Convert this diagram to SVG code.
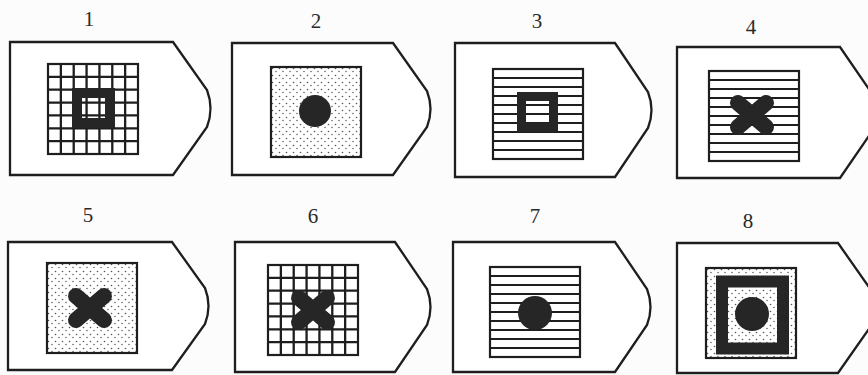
<svg xmlns="http://www.w3.org/2000/svg" xmlns:xlink="http://www.w3.org/1999/xlink" width="868" height="375" viewBox="0 0 868 375">
<style>
.card{fill:#fff;stroke:#1e1e1e;stroke-width:2.3;stroke-linejoin:miter}
.lbl{font-family:"Liberation Serif","DejaVu Serif",serif;font-size:21px;fill:#2a2a2a;text-anchor:middle}
.frame{fill:none;stroke:#1e1e1e;stroke-width:2.2}
.ink{fill:#262626}
.xm{stroke:#262626;stroke-width:16;stroke-linecap:round;fill:none}
.ring{fill:none;stroke:#262626}
</style>
<defs>
<pattern id="dotp" patternUnits="userSpaceOnUse" width="7" height="7">
<rect width="7" height="7" fill="#fff"/>
<circle cx="1.5" cy="1.5" r="0.8" fill="#555"/>
<circle cx="5" cy="4.5" r="0.8" fill="#666"/>
</pattern>
<g id="grid">
<rect width="90" height="90" fill="#fff"/>
<path d="M0 12.86H90M0 25.71H90M0 38.57H90M0 51.43H90M0 64.29H90M0 77.14H90M12.86 0V90M25.71 0V90M38.57 0V90M51.43 0V90M64.29 0V90M77.14 0V90" stroke="#1e1e1e" stroke-width="2.3" fill="none"/>
<rect width="90" height="90" class="frame"/>
</g>
<g id="stripes">
<rect width="90" height="90" fill="#fff"/>
<path d="M0 9H90M0 18H90M0 27H90M0 36H90M0 45H90M0 54H90M0 63H90M0 72H90M0 81H90" stroke="#1e1e1e" stroke-width="1.8" fill="none"/>
<rect width="90" height="90" class="frame"/>
</g>
<g id="dots">
<rect width="90" height="90" fill="url(#dotp)"/>
<rect width="90" height="90" class="frame"/>
</g>
</defs>
<rect width="868" height="375" fill="#fdfcfc"/>

<g id="node1">
<text class="lbl" x="89" y="26">1</text>
<path class="card" d="M10 42H173L207 90Q214 108.5 207 127L173 175H10Z"/>
<use xlink:href="#grid" x="48" y="64"/>
<rect class="ring" x="77" y="93" width="33" height="30" stroke-width="10"/>
</g>

<g id="node2">
<text class="lbl" x="316" y="28">2</text>
<path class="card" d="M232 43H393L427 91Q434 109 427 127L393 175H232Z"/>
<use xlink:href="#dots" x="271" y="67"/>
<circle class="ink" cx="315" cy="111" r="16"/>
</g>

<g id="node3">
<text class="lbl" x="537" y="28">3</text>
<path class="card" d="M455 43H615L648 92Q655 110 648 128L615 177H455Z"/>
<use xlink:href="#stripes" x="493" y="69"/>
<rect class="ring" x="521.5" y="96.5" width="32" height="31" stroke-width="9"/>
</g>

<g id="node4">
<text class="lbl" x="751" y="34">4</text>
<path class="card" d="M677 47H840L873 95Q880 112.5 873 130L840 178H677Z"/>
<use xlink:href="#stripes" x="709" y="71"/>
<path class="xm" d="M738 103L766 127M738 127L766 103"/>
</g>

<g id="node5">
<text class="lbl" x="88" y="222">5</text>
<path class="card" d="M8 242H172L205 288Q212 306 205 324L172 370H8Z"/>
<use xlink:href="#dots" x="47" y="263"/>
<path class="xm" d="M76 296L104 320M76 320L104 296"/>
</g>

<g id="node6">
<text class="lbl" x="313" y="223">6</text>
<path class="card" d="M235 242H395L427 289Q434 307 427 325L395 372H235Z"/>
<use xlink:href="#grid" x="268" y="265"/>
<path class="xm" d="M299 298L327 322M299 322L327 298"/>
</g>

<g id="node7">
<text class="lbl" x="535" y="223">7</text>
<path class="card" d="M453 242H615L647 289Q654 307 647 325L615 372H453Z"/>
<use xlink:href="#stripes" x="490" y="267"/>
<circle class="ink" cx="535" cy="313" r="17"/>
</g>

<g id="node8">
<text class="lbl" x="748" y="228">8</text>
<path class="card" d="M677 243H838L871 290Q878 308 871 326L838 373H677Z"/>
<use xlink:href="#dots" x="706" y="268"/>
<rect class="ring" x="722" y="281.5" width="61" height="67" stroke-width="12"/>
<circle class="ink" cx="752" cy="314" r="17"/>
</g>

<g id="connectors"/>
</svg>
